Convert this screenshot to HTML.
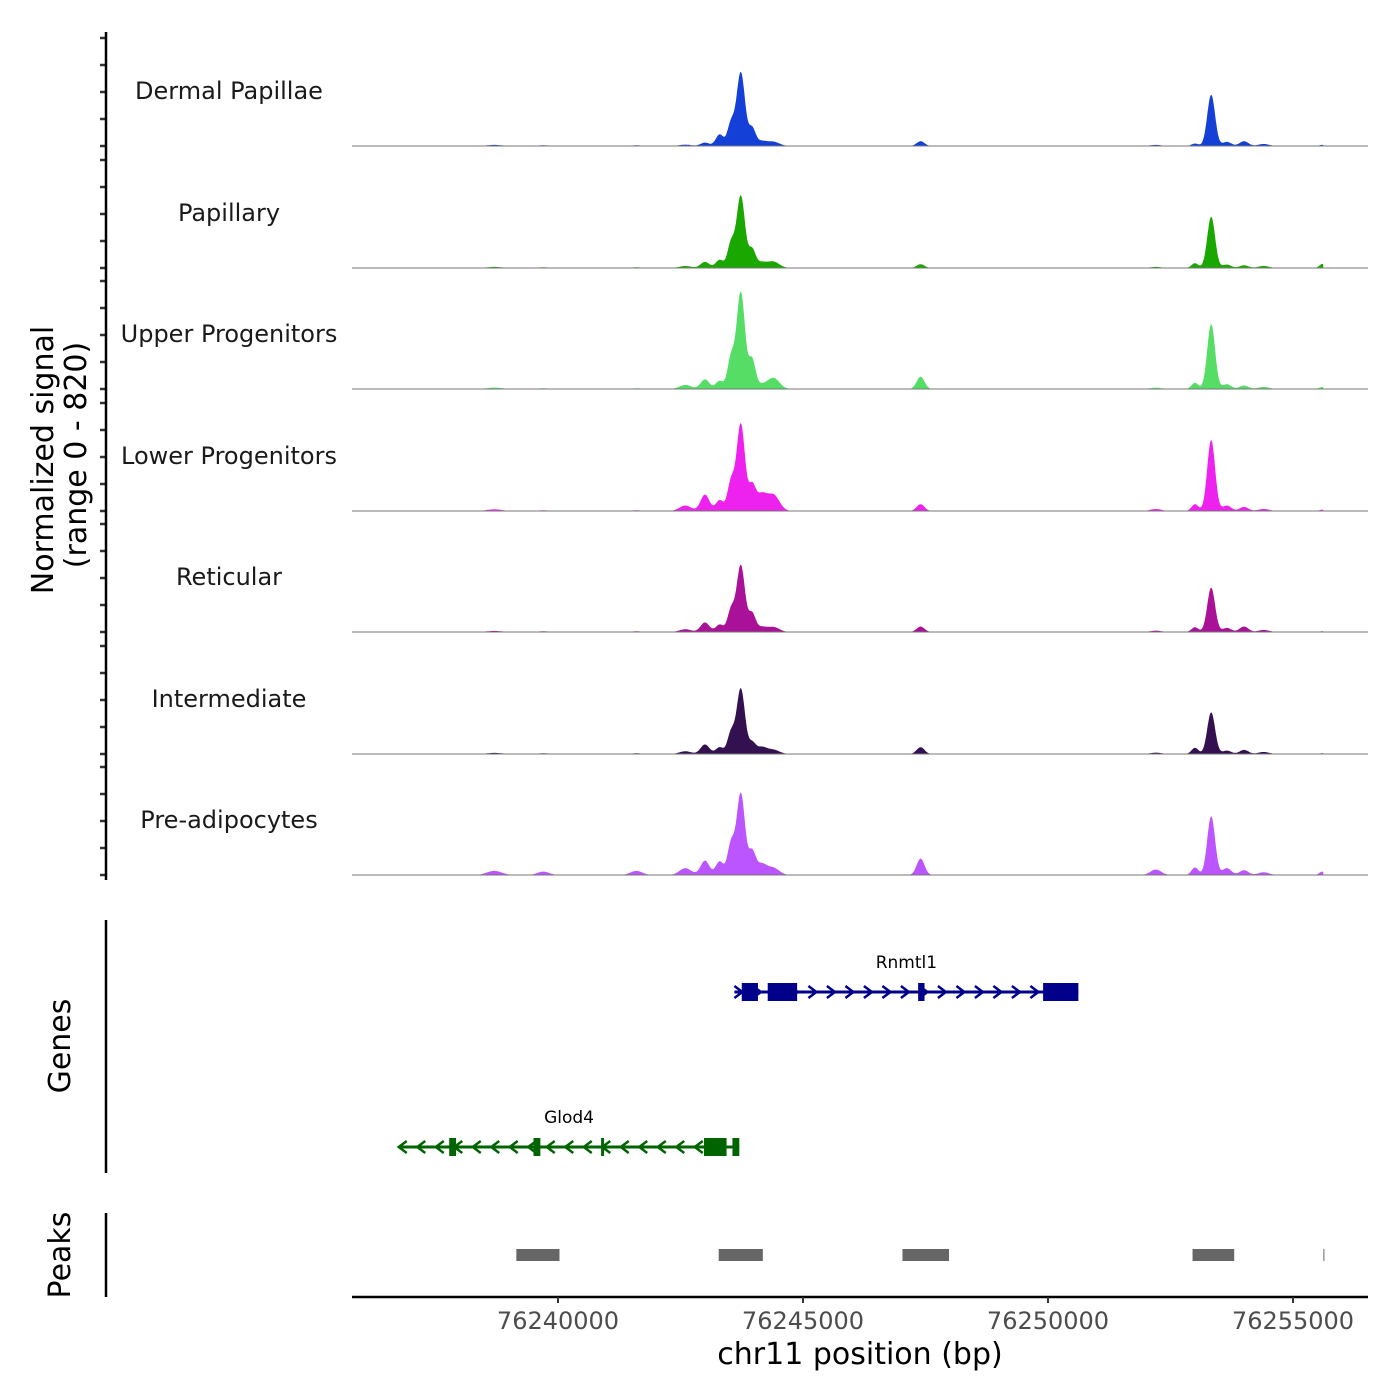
<!DOCTYPE html>
<html><head><meta charset="utf-8"><style>
html,body{margin:0;padding:0;background:#fff}
svg{display:block;font-family:"DejaVu Sans","Liberation Sans",sans-serif}
</style></head><body>
<svg id="chart" width="1400" height="1400" viewBox="0 0 1400 1400" xmlns="http://www.w3.org/2000/svg"></svg>
<script>
// ---- data ----
const trackNames = ["Dermal Papillae","Papillary","Upper Progenitors","Lower Progenitors","Reticular","Intermediate","Pre-adipocytes"];
const trackColors = ["#1440d8","#1aa800","#55dd66","#ee22ee","#aa1199","#33104f","#bb55ff"];
const peakPositions = [76238700,76242600,76243000,76243300,76243530,76243730,76243960,76244150,76244400,76247400,76252200,76253000,76253330,76253650,76254000,76254400,76255600,76239700,76241600];
const peakWidths    = [150,120,90,80,70,85,70,110,120,80,110,70,80,90,90,110,60,120,120];
const signalDermal   = [8,10,25,85,165,540,125,35,30,35,8,18,375,30,35,15,8,5,5];
const signalPapillary= [8,15,45,60,180,530,130,40,45,28,8,35,375,25,20,15,30,5,5];
const signalUpper    = [10,30,70,60,225,710,210,30,80,90,10,45,475,35,25,15,15,5,5];
const signalLower    = [12,40,120,80,210,640,170,120,115,50,15,50,520,40,30,15,10,5,5];
const signalReticular= [8,20,70,55,160,490,130,35,35,40,10,35,325,30,40,15,5,5,5];
const signalInterm   = [8,20,70,50,155,480,75,50,30,50,10,45,305,25,30,15,5,5,5];
const signalPreadipo = [30,50,105,100,225,600,160,80,50,120,40,55,430,50,35,20,25,25,30];
const trackSignals = [signalDermal,signalPapillary,signalUpper,signalLower,signalReticular,signalInterm,signalPreadipo];
const xTicks = [76240000,76245000,76250000,76255000];
const genes = [
  {name:"Rnmtl1",start:76243600,end:76250620,strand:1,row:0,color:"#00008b",
   exons:[[76243750,76244080,1],[76244280,76244880,1],[76247350,76247480,1],[76249900,76250620,1]]},
  {name:"Glod4",start:76236750,end:76243700,strand:-1,row:1,color:"#006400",
   exons:[[76237780,76237920,1],[76239500,76239640,1],[76240880,76240940,1],[76242980,76243440,1],[76243560,76243700,0.75]]}
];
const peakRegions = [[76239150,76240030],[76243280,76244180],[76247030,76247980],[76252950,76253800],[76255620,76255640]];

// ---- scales ----
const X0=76240000, PX0=558, PPB=735/15000;
const xs = bp => PX0 + (bp-X0)*PPB;
const baselines=[146,268,389,511,632,754,875];
const ys = (v,b) => b - v/820*112;
const NS="http://www.w3.org/2000/svg";
const svg=document.getElementById('chart');
function mk(tag,attrs,parent){const e=document.createElementNS(NS,tag);for(const k in attrs)e.setAttribute(k,attrs[k]);(parent||svg).appendChild(e);return e;}

// tracks
for(let t=0;t<trackNames.length;t++){
  const g=mk('g',{});
  
  
  const b=baselines[t], sig=trackSignals[t];
  let d='M352,'+b;
  for(let bp=76235800;bp<=76255620;bp+=15){
    let v=0;
    for(let i=0;i<peakPositions.length;i++){const z=(bp-peakPositions[i])/peakWidths[i];v+=sig[i]*Math.exp(-z*z/2);}
    d+=' L'+xs(bp).toFixed(1)+','+ys(v,b).toFixed(1);
  }
  d+=' L'+xs(76255620).toFixed(1)+','+b+' Z';
  const p=mk('path',{d:d,fill:trackColors[t]},g);
  
  
  const ln=mk('line',{x1:352,x2:1368,y1:b,y2:b,stroke:'#777','stroke-width':1},g);
  
  
  const lb=mk('text',{x:229,y:b-47,'text-anchor':'middle','font-size':24,fill:'#1a1a1a'},g);
  lb.textContent=trackNames[t];
  
  
  for(let k=0;k<5;k++){
    const ty=b-k*27;
    const tk=mk('line',{x1:100,x2:106,y1:ty,y2:ty,stroke:'#333','stroke-width':2.5},g);
    
    
  }
}
// left axes
[[32,880,'signal-y-axis'],[920,1173,'genes-y-axis'],[1213,1297,'peaks-y-axis']].forEach(a=>{
  const l=mk('line',{x1:106,x2:106,y1:a[0],y2:a[1],stroke:'#000','stroke-width':2.5});
  
  
});
function vtext(x,y,s,name,size){
  const t=mk('text',{x:0,y:0,transform:`translate(${x},${y}) rotate(-90)`,'text-anchor':'middle','font-size':size||30,fill:'#000'});
  t.textContent=s;
}
vtext(53,460,'Normalized signal','y-axis-title');
vtext(86,455,'(range 0 - 820)','y-axis-subtitle');
vtext(70,1046,'Genes','genes-axis-title');
vtext(70,1255,'Peaks','peaks-axis-title');

// genes
genes.forEach(gn=>{
  const g=mk('g',{});
  
  
  const y=gn.row===0?992:1147;
  const x1=xs(gn.start),x2=xs(gn.end);
  mk('line',{x1:x1,x2:x2,y1:y,y2:y,stroke:gn.color,'stroke-width':3},g);
  const step=18.5;
  for(let x=x1+4;x<x2-4;x+=step){
    const dx=gn.strand>0?4:-4;
    mk('polyline',{points:`${x-dx},${y-6} ${x+dx},${y} ${x-dx},${y+6}`,fill:'none',stroke:gn.color,'stroke-width':2.5},g);
  }
  gn.exons.forEach(e=>{
    const h=e[2]?18:14;
    const r=mk('rect',{x:xs(e[0]),y:y-h/2,width:Math.max(2,xs(e[1])-xs(e[0])),height:h,fill:gn.color},g);
    
    
  });
  const lt=mk('text',{x:(x1+x2)/2,y:y-24,'text-anchor':'middle','font-size':17,fill:'#000'},g);
  lt.textContent=gn.name;
  
  
});

// peak regions
peakRegions.forEach(pk=>{
  const r=mk('rect',{x:xs(pk[0]),y:1249,width:Math.max(1,xs(pk[1])-xs(pk[0])),height:12,fill:'#666'});
  
  
});

// x axis
const ax=mk('line',{x1:352,x2:1368,y1:1297,y2:1297,stroke:'#000','stroke-width':2.5});


xTicks.forEach(v=>{
  const x=xs(v);
  const tk=mk('line',{x1:x,x2:x,y1:1297,y2:1303,stroke:'#333','stroke-width':2});
  
  
  const t=mk('text',{x:x,y:1329,'text-anchor':'middle','font-size':24,fill:'#4d4d4d'});
  t.textContent=String(v);
  
  
});
const xt=mk('text',{x:860,y:1364,'text-anchor':'middle','font-size':30,fill:'#000'});
xt.textContent='chr11 position (bp)';


</script>
</body></html>
